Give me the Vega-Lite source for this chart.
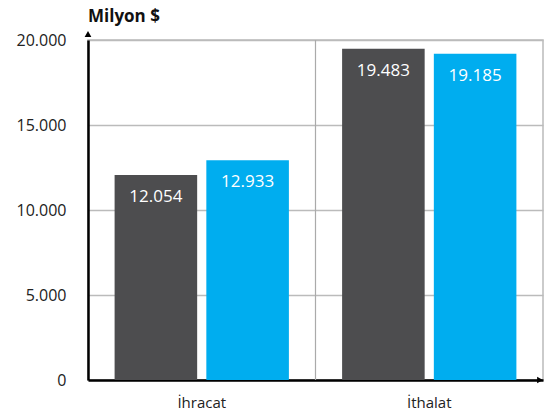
{
  "$schema": "https://vega.github.io/schema/vega-lite/v6.json",
  "width": 455,
  "height": 340,
  "autosize": {"type": "none"},
  "padding": {"left": 88, "top": 40, "right": 1, "bottom": 36},
  "config": {
    "locale": {"number": {"decimal": ",", "thousands": ".", "grouping": [3], "currency": ["", "$"]}},
    "font": "Open Sans",
    "view": {"stroke": "#bbbbbb", "strokeWidth": 1.5}
  },
  "title": {"text": "Milyon $", "anchor": "start", "frame": "group", "fontSize": 17, "fontWeight": "bold", "color": "#111111", "offset": 5, "font": "Open Sans"},
  "data": {"values": [
    {"cat": "İhracat", "series": "Dönem 1", "v": 12054},
    {"cat": "İhracat", "series": "Dönem 2", "v": 12933},
    {"cat": "İthalat", "series": "Dönem 1", "v": 19483},
    {"cat": "İthalat", "series": "Dönem 2", "v": 19185}
  ]},
  "layer": [
    {
      "mark": {"type": "bar"},
      "encoding": {
        "x": {"field": "cat", "type": "nominal", "scale": {"domain": ["İhracat", "İthalat"], "paddingInner": 0, "paddingOuter": 0},
          "axis": {"title": null, "labelAngle": 0, "labelAlign": "center", "bandPosition": 0.5, "labelFontSize": 15, "labelColor": "#222222", "ticks": false, "domainColor": "#000000", "domainWidth": 2.5, "labelPadding": 22, "labelBaseline": "middle", "grid": false}},
        "xOffset": {"field": "series", "type": "nominal", "scale": {"paddingInner": 0.1, "paddingOuter": 0.29}},
        "y": {"field": "v", "type": "quantitative", "scale": {"domain": [0, 20000], "nice": false},
          "axis": {"title": null, "values": [0, 5000, 10000, 15000, 20000], "labelExpr": "format(datum.value, ',')", "labelFontSize": 16, "labelColor": "#222222", "ticks": false, "labelPadding": 22, "domainColor": "#000000", "domainWidth": 2.5, "gridColor": "#bbbbbb", "gridWidth": 1.5}},
        "color": {"field": "series", "type": "nominal", "scale": {"range": ["#4d4d4f", "#00adef"]}, "legend": null}
      }
    },
    {
      "data": {"values": [{"cat": "İthalat"}]},
      "mark": {"type": "rule", "color": "#aaaaaa", "strokeWidth": 1.2},
      "encoding": {
        "x": {"field": "cat", "type": "nominal", "bandPosition": 0}
      }
    },
    {
      "mark": {"type": "text", "color": "#ffffff", "fontSize": 17, "baseline": "middle", "dy": 22},
      "encoding": {
        "x": {"field": "cat", "type": "nominal"},
        "xOffset": {"field": "series", "type": "nominal"},
        "y": {"field": "v", "type": "quantitative"},
        "text": {"field": "v", "type": "quantitative", "format": ","}
      }
    },
    {
      "data": {"values": [{"cat": "İhracat", "v": 20000}]},
      "mark": {"type": "point", "shape": "triangle-up", "filled": true, "color": "#000000", "size": 45, "yOffset": -6, "opacity": 1},
      "encoding": {
        "x": {"field": "cat", "type": "nominal", "bandPosition": 0},
        "y": {"field": "v", "type": "quantitative"}
      }
    },
    {
      "data": {"values": [{"cat": "İthalat", "v": 0}]},
      "mark": {"type": "point", "shape": "triangle-right", "filled": true, "color": "#000000", "size": 45, "xOffset": -3, "opacity": 1},
      "encoding": {
        "x": {"field": "cat", "type": "nominal", "bandPosition": 1},
        "y": {"field": "v", "type": "quantitative"}
      }
    }
  ]
}
